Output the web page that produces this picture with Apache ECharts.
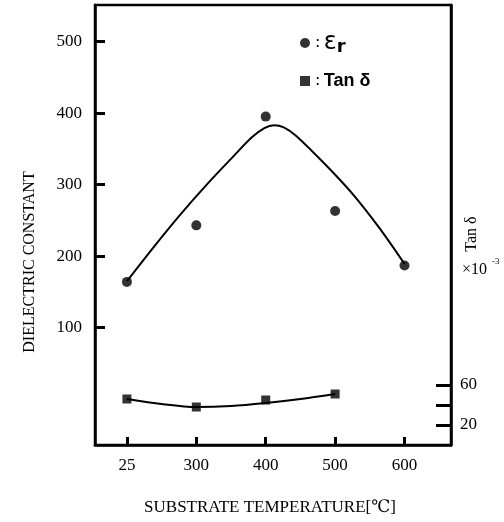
<!DOCTYPE html>
<html>
<head>
<meta charset="utf-8">
<script src="https://cdn.jsdelivr.net/npm/echarts@6/dist/echarts.min.js"></script>
<style>
  html, body { margin: 0; padding: 0; background: #fff; }
  #main { width: 504px; height: 522px; }
</style>
</head>
<body>
<div id="main"></div>
<script>
// substrate temperatures (drawn evenly spaced on the figure)
var temps = ['25', '300', '400', '500', '600'];
// dielectric constant, measured points
var epsR = [164, 243, 395, 263, 187];
// Tan δ (x10^-3), measured points (no point at 600)
var tanD = [46, 38, 45, 51];
// hand drawn trend curves: [position, value]
var epsCurve = [[0, 165], [0.38, 212], [0.76, 257], [1.15, 300], [1.53, 339], [1.8, 366],
                [1.98, 379], [2.12, 383], [2.26, 380], [2.44, 368], [2.87, 327], [3.26, 286], [3.64, 239], [4, 189]];
var tanCurve = [[0, 46], [0.5, 41], [1, 38], [1.5, 39], [2, 42], [2.5, 46], [3, 51]];
// axis ticks
var leftTicks = [100, 200, 300, 400, 500];
var rightTicks = [20, 40, 60];
var rightLabels = [20, 60];
var xTicks = [0, 1, 2, 3, 4];

var serif = '"Liberation Serif", "DejaVu Serif", serif';

var myChart = echarts.init(document.getElementById('main'));

var option = {
  animation: false,
  grid: {
    left: 95, right: 53, top: 5, bottom: 77,
    show: true, borderColor: '#000', borderWidth: 2.5, backgroundColor: 'transparent'
  },
  legend: {
    orient: 'vertical',
    left: 295, top: 26,
    itemWidth: 10, itemHeight: 10, itemGap: 16,
    data: [{ name: 'εr', icon: 'circle' }, { name: 'Tan δ', icon: 'rect' }],
    formatter: function (name) {
      if (name === 'εr') return '{c|:} {e|ε}{s|r}';
      return '{c|:} {t|Tan δ}';
    },
    textStyle: {
      color: '#000',
      rich: {
        c: { fontSize: 16, fontFamily: 'DejaVu Sans', color: '#000', height: 24 },
        e: { fontSize: 24, fontFamily: 'DejaVu Sans', color: '#000', height: 24 },
        s: { fontSize: 18, fontWeight: 'bold', fontFamily: 'DejaVu Sans', color: '#000', padding: [8, 0, 0, 0] },
        t: { fontSize: 18, fontWeight: 'bold', fontFamily: 'Liberation Sans', color: '#000', height: 24 }
      }
    }
  },
  xAxis: {
    type: 'value',
    min: -0.46, max: 4.67,
    splitLine: { show: false },
    axisLine: { onZero: false, lineStyle: { color: '#000', width: 2.5 } },
    axisTick: { inside: true, length: 8, customValues: xTicks, lineStyle: { color: '#000', width: 3 } },
    axisLabel: {
      customValues: xTicks,
      margin: 12,
      color: '#000', fontSize: 17, fontFamily: serif,
      formatter: function (v) { return temps[Math.round(v)]; }
    }
  },
  yAxis: [
    {
      type: 'value',
      min: -64, max: 551,
      splitLine: { show: false },
      axisLine: { show: true, onZero: false, lineStyle: { color: '#000', width: 2.5 } },
      axisTick: { inside: true, length: 10, customValues: leftTicks, lineStyle: { color: '#000', width: 3 } },
      axisLabel: { customValues: leftTicks, margin: 13, color: '#000', fontSize: 17, fontFamily: serif }
    },
    {
      type: 'value',
      position: 'right',
      min: 0, max: 440,
      splitLine: { show: false },
      axisLine: { show: true, onZero: false, lineStyle: { color: '#000', width: 2.5 } },
      axisTick: { inside: true, length: 15, customValues: rightTicks, lineStyle: { color: '#000', width: 3 } },
      axisLabel: { customValues: rightLabels, margin: 9, color: '#000', fontSize: 17, fontFamily: serif }
    }
  ],
  series: [
    {
      name: 'εr curve', type: 'line', yAxisIndex: 0, smooth: 0.3,
      data: epsCurve, showSymbol: false,
      lineStyle: { color: '#000', width: 2 }
    },
    {
      name: 'Tan δ curve', type: 'line', yAxisIndex: 1, smooth: 0.3,
      data: tanCurve, showSymbol: false,
      lineStyle: { color: '#000', width: 2 }
    },
    {
      name: 'εr', type: 'scatter', yAxisIndex: 0,
      symbol: 'circle', symbolSize: 10,
      itemStyle: { color: '#000' },
      data: epsR.map(function (v, i) { return [i, v]; })
    },
    {
      name: 'Tan δ', type: 'scatter', yAxisIndex: 1,
      symbol: 'rect', symbolSize: 9,
      itemStyle: { color: '#000' },
      data: tanD.map(function (v, i) { return [i, v]; })
    }
  ],
  graphic: [
    {
      type: 'text', rotation: Math.PI / 2, x: 30, y: 262,
      style: { text: 'DIELECTRIC CONSTANT', font: '16px ' + serif, fill: '#000', textAlign: 'center', textVerticalAlign: 'middle' }
    },
    {
      type: 'text', x: 270, y: 508,
      style: { text: 'SUBSTRATE TEMPERATURE[℃]', font: '17px ' + serif, fill: '#000', textAlign: 'center', textVerticalAlign: 'middle' }
    },
    {
      type: 'text', rotation: Math.PI / 2, x: 472, y: 234,
      style: { text: 'Tan δ', font: '16px ' + serif, fill: '#000', textAlign: 'center', textVerticalAlign: 'middle' }
    },
    {
      type: 'text', x: 462, y: 270,
      style: { text: '×10', font: '16px ' + serif, fill: '#000', textAlign: 'left', textVerticalAlign: 'middle' }
    },
    {
      type: 'text', x: 492, y: 262,
      style: { text: '-3', font: '9px ' + serif, fill: '#000', textAlign: 'left', textVerticalAlign: 'middle' }
    }
  ]
};

myChart.setOption(option);
</script>
</body>
</html>
